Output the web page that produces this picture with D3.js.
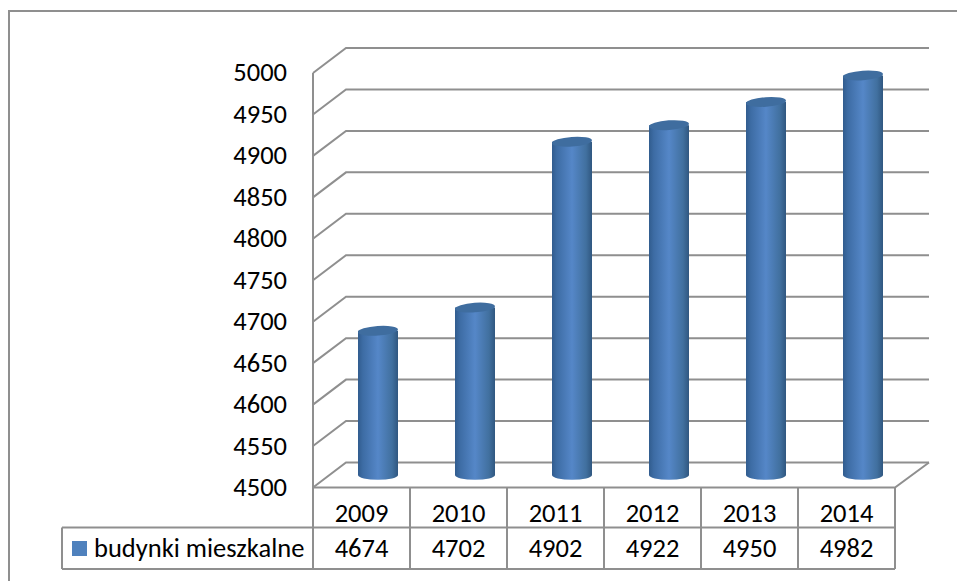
<!DOCTYPE html>
<html lang="pl">
<head>
<meta charset="utf-8">
<title>budynki mieszkalne</title>
<script src="https://d3js.org/d3.v7.min.js"></script>
<style>
  html, body { margin: 0; padding: 0; background: #fff; }
  svg { display: block; }
  text { font-family: Carlito, Calibri, "Open Sans", "Noto Sans", sans-serif; fill: #000; }
</style>
</head>
<body>
<svg width="957" height="581"></svg>
<script>
var years = ["2009", "2010", "2011", "2012", "2013", "2014"];
var values = [4674, 4702, 4902, 4922, 4950, 4982];
var yTicks = [4500, 4550, 4600, 4650, 4700, 4750, 4800, 4850, 4900, 4950, 5000];
var seriesName = "budynki mieszkalne";

var svg = d3.select("svg");
var gridColor = "#8f8f8f";
var fontSize = 26.5;

// front plane of the 3d box, the back wall sits depthX/depthY away
var depthX = 33, depthY = -25;
var y = d3.scaleLinear().domain([4500, 5000]).range([487.5, 73]);
var x = d3.scaleBand().domain(years).range([313, 895]);

var defs = svg.append("defs");
var grad = defs.append("linearGradient").attr("id", "cyl");
[[0, "#315c8e"], [0.12, "#3d6ca4"], [0.5, "#5587c8"], [0.85, "#41709f"], [1, "#305780"]].forEach(function(s) {
  grad.append("stop").attr("offset", s[0]).attr("stop-color", s[1]);
});

// outer frame, open on the right and at the bottom
svg.append("path")
  .attr("d", "M9,581V11H957")
  .attr("fill", "none").attr("stroke", gridColor).attr("stroke-width", 2);

// walls and gridlines
var wall = svg.append("g").attr("fill", "none").attr("stroke", gridColor).attr("stroke-width", 2);
yTicks.forEach(function(t) {
  wall.append("path").attr("d", d3.line()([
    [313, y(t)], [313 + depthX, y(t) + depthY], [929, y(t) + depthY]
  ]));
});
wall.append("path").attr("d", d3.line()([[313, y(5000)], [313, y(4500)], [895, y(4500)], [929, y(4500) + depthY]]));

// y labels
svg.append("g").selectAll("text").data(yTicks).join("text")
  .attr("x", 287).attr("y", function(d) { return y(d); })
  .attr("dy", "0.32em").attr("text-anchor", "end")
  .attr("font-size", fontSize)
  .text(function(d) { return d; });

// cylinders
var barW = 40, ry = 4.8;
var bars = svg.append("g").selectAll("g").data(values).join("g");
function cx(i) { return x(years[i]) + x.bandwidth() / 2 + depthX / 2; }
function yMid(v) { return y(v) + depthY / 2; }
bars.append("path")
  .attr("fill", "url(#cyl)")
  .attr("d", function(d, i) {
    var l = cx(i) - barW / 2, r = cx(i) + barW / 2, b = yMid(4500), t = yMid(d);
    return "M" + l + "," + t + "V" + b + "A" + barW / 2 + "," + ry + " 0 0 0 " + r + "," + b + "V" + t + "Z";
  });
bars.append("ellipse")
  .attr("cx", function(d, i) { return cx(i); })
  .attr("cy", function(d) { return yMid(d); })
  .attr("rx", barW / 2).attr("ry", ry)
  .attr("transform", function(d, i) { return "rotate(-4 " + cx(i) + " " + yMid(d) + ")"; })
  .attr("fill", "#3f6d9f");

// data table
var rowTop = y(4500), rowMid = 527.5, rowBot = 569;
var table = svg.append("g").attr("fill", "none").attr("stroke", gridColor).attr("stroke-width", 2);
table.append("path").attr("d", "M62," + rowMid + "H895M62," + rowBot + "H895M62," + rowMid + "V" + rowBot);
x.domain().concat(["end"]).forEach(function(yr, i) {
  var px = 313 + i * x.bandwidth();
  table.append("path").attr("d", "M" + px + "," + rowTop + "V" + rowBot);
});

svg.append("g").selectAll("text").data(years).join("text")
  .attr("x", function(d) { return x(d) + x.bandwidth() / 2; })
  .attr("y", 521.5).attr("text-anchor", "middle").attr("font-size", fontSize)
  .text(function(d) { return d; });
svg.append("g").selectAll("text").data(values).join("text")
  .attr("x", function(d, i) { return x(years[i]) + x.bandwidth() / 2; })
  .attr("y", 556.5).attr("text-anchor", "middle").attr("font-size", fontSize)
  .text(function(d) { return d; });

// legend key + name
svg.append("rect").attr("x", 72).attr("y", 541).attr("width", 15).attr("height", 15).attr("fill", "#4f81bd");
svg.append("text").attr("x", 94).attr("y", 556.5).attr("font-size", fontSize).text(seriesName);
</script>
</body>
</html>
